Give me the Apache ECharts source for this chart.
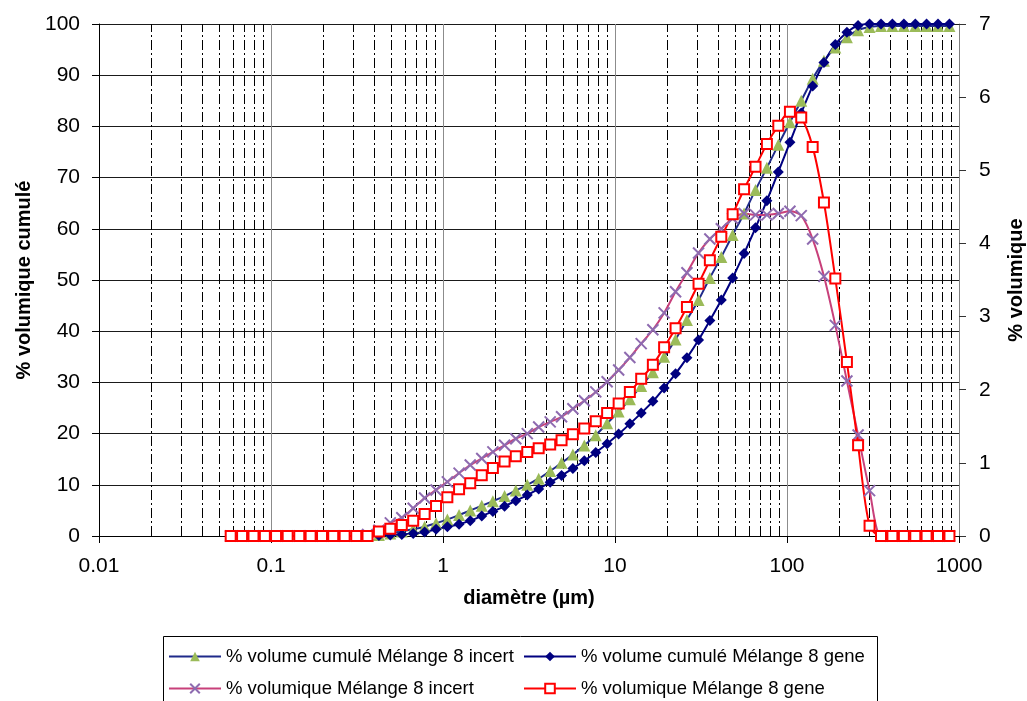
<!DOCTYPE html>
<html>
<head>
<meta charset="utf-8">
<script src="https://cdn.jsdelivr.net/npm/echarts@6/dist/echarts.min.js"></script>
<style>
  html, body { margin: 0; padding: 0; background: #fff; }
  #chart { width: 1027px; height: 701px; }
</style>
</head>
<body>
<div id="chart"></div>
<script>
// Particle size classes (µm), upper edge of each band
const diametres = [0.0583, 0.0679, 0.0791, 0.0921, 0.107, 0.125, 0.146, 0.170, 0.198, 0.230,
  0.268, 0.313, 0.364, 0.424, 0.494, 0.576, 0.671, 0.782, 0.911, 1.06,
  1.24, 1.44, 1.68, 1.95, 2.28, 2.65, 3.09, 3.60, 4.20, 4.89,
  5.69, 6.63, 7.73, 9.00, 10.5, 12.2, 14.2, 16.6, 19.3, 22.5,
  26.2, 30.6, 35.6, 41.5, 48.3, 56.3, 65.6, 76.4, 89.0, 104,
  121, 141, 164, 191, 223, 259, 302, 352, 410, 478,
  557, 648, 755, 880];

// % volume cumulé (left axis)
const cumulIncert = [0, 0, 0, 0, 0, 0, 0, 0, 0, 0,
  0, 0, 0, 0.2, 0.5, 0.9, 1.3, 1.8, 2.5, 3.2,
  4.1, 5.0, 5.9, 6.8, 7.8, 8.9, 10.0, 11.2, 12.7, 14.3,
  15.9, 17.7, 19.7, 22.0, 24.3, 26.7, 29.3, 32.0, 35.0, 38.4,
  42.2, 46.1, 50.4, 54.5, 58.8, 63.0, 67.6, 71.9, 76.4, 80.8,
  85.0, 89.3, 92.8, 95.4, 97.4, 98.8, 99.4, 99.6, 99.6, 99.6,
  99.6, 99.6, 99.6, 99.6];

const cumulGene = [0, 0, 0, 0, 0, 0, 0, 0, 0, 0,
  0, 0, 0, 0.1, 0.2, 0.3, 0.5, 0.8, 1.3, 1.8,
  2.3, 3.0, 3.9, 4.8, 5.8, 6.9, 8.0, 9.2, 10.5, 11.8,
  13.2, 14.7, 16.3, 18.0, 19.9, 21.9, 24.0, 26.3, 28.9, 31.7,
  34.8, 38.3, 42.1, 46.1, 50.4, 55.2, 60.2, 65.5, 71.1, 76.9,
  82.6, 87.9, 92.5, 96.0, 98.4, 99.7, 100, 100, 100, 100,
  100, 100, 100, 100];

// % volumique (right axis)
const volIncert = [0, 0, 0, 0, 0, 0, 0, 0, 0, 0,
  0, 0, 0.02, 0.08, 0.18, 0.25, 0.38, 0.52, 0.63, 0.74,
  0.86, 0.97, 1.06, 1.15, 1.24, 1.33, 1.40, 1.49, 1.56, 1.63,
  1.74, 1.85, 1.97, 2.11, 2.27, 2.44, 2.63, 2.82, 3.05, 3.34,
  3.60, 3.87, 4.06, 4.20, 4.34, 4.41, 4.39, 4.39, 4.41, 4.44,
  4.38, 4.06, 3.55, 2.88, 2.12, 1.38, 0.62, 0, 0, 0,
  0, 0, 0, 0];

const volGene = [0, 0, 0, 0, 0, 0, 0, 0, 0, 0,
  0, 0, 0, 0.06, 0.10, 0.15, 0.21, 0.30, 0.41, 0.53,
  0.64, 0.72, 0.83, 0.93, 1.02, 1.09, 1.15, 1.20, 1.25, 1.31,
  1.39, 1.47, 1.57, 1.68, 1.81, 1.97, 2.15, 2.34, 2.58, 2.84,
  3.13, 3.45, 3.77, 4.09, 4.40, 4.74, 5.05, 5.36, 5.61, 5.80,
  5.72, 5.32, 4.56, 3.52, 2.38, 1.24, 0.14, 0, 0, 0,
  0, 0, 0, 0];

const seriesNames = [
  '% volume cumulé Mélange 8 incert',
  '% volume cumulé Mélange 8 gene',
  '% volumique Mélange 8 incert',
  '% volumique Mélange 8 gene'
];

const FONT = '"Liberation Sans", Arial, sans-serif';

// Minor vertical grid at 2..9 of each decade
const minorGrid = [];
[0.01, 0.1, 1, 10, 100].forEach(function (d) {
  for (let m = 2; m <= 9; m++) minorGrid.push(+(m * d).toPrecision(3));
});

function pairs(ys) { return diametres.map(function (x, i) { return [x, ys[i]]; }); }

const crossPath = 'path://M0,0L10,10M10,0L0,10';

const chart = echarts.init(document.getElementById('chart'), null, { renderer: 'canvas' });

const legendCommon = {
  orient: 'horizontal',
  padding: 0,
  itemGap: 0,
  itemWidth: 52,
  itemHeight: 12,
  textStyle: { fontFamily: FONT, fontSize: 18.5, color: '#000' }
};

chart.setOption({
  animation: false,
  backgroundColor: '#fff',
  grid: { left: 99, right: 68, top: 24, bottom: 165, containLabel: false, outerBoundsMode: 'none' },
  xAxis: {
    type: 'log',
    logBase: 10,
    min: 0.01,
    max: 1000,
    name: 'diamètre (µm)',
    nameLocation: 'middle',
    nameGap: 52,
    nameTextStyle: { fontFamily: FONT, fontSize: 20, fontWeight: 'bold', color: '#000' },
    axisLine: { show: true, lineStyle: { color: '#000', width: 1 } },
    axisTick: { show: true, length: 7, lineStyle: { color: '#000' } },
    axisLabel: {
      fontFamily: FONT, fontSize: 21, color: '#000', margin: 20,
      formatter: function (v) { return String(+v.toPrecision(3)); }
    },
    splitLine: { show: true, lineStyle: { color: '#8c8c8c', width: 1 } },
    minorTick: { show: false },
    minorSplitLine: { show: false }
  },
  yAxis: [
    {
      type: 'value',
      min: 0, max: 100, interval: 10,
      position: 'left',
      name: '% volumique cumulé',
      nameLocation: 'middle',
      nameRotate: 90,
      nameGap: 64,
      nameTextStyle: { fontFamily: FONT, fontSize: 20, fontWeight: 'bold', color: '#000' },
      axisLine: { show: true, lineStyle: { color: '#000', width: 1 } },
      axisTick: { show: true, length: 7, lineStyle: { color: '#000' } },
      axisLabel: { fontFamily: FONT, fontSize: 21, color: '#000', margin: 19 },
      splitLine: { show: true, lineStyle: { color: '#1a1a1a', width: 1 } }
    },
    {
      type: 'value',
      min: 0, max: 7, interval: 1,
      position: 'right',
      name: '% volumique',
      nameLocation: 'middle',
      nameRotate: 90,
      nameGap: 47,
      nameTextStyle: { fontFamily: FONT, fontSize: 20, fontWeight: 'bold', color: '#000' },
      axisLine: { show: true, lineStyle: { color: '#808080', width: 1 } },
      axisTick: { show: true, length: 7, lineStyle: { color: '#333' } },
      axisLabel: { fontFamily: FONT, fontSize: 21, color: '#000', margin: 20 },
      splitLine: { show: false }
    }
  ],
  legend: [
    Object.assign({ data: [seriesNames[0]], left: 168, top: 647 }, legendCommon),
    Object.assign({ data: [seriesNames[1]], left: 523, top: 647 }, legendCommon),
    Object.assign({ data: [seriesNames[2]], left: 168, top: 679 }, legendCommon),
    Object.assign({ data: [seriesNames[3]], left: 523, top: 679 }, legendCommon)
  ],
  graphic: [{
    type: 'rect',
    shape: { x: 163.5, y: 636.5, width: 714, height: 80 },
    style: { fill: 'none', stroke: '#000', lineWidth: 1 },
    silent: true
  }],
  series: [
    {
      name: seriesNames[0],
      type: 'line',
      yAxisIndex: 0,
      data: pairs(cumulIncert),
      smooth: 0.3,
      symbol: 'triangle',
      symbolSize: 12,
      lineStyle: { color: '#1f2a8a', width: 2 },
      itemStyle: { color: '#9bbb59', borderWidth: 0 },
      markLine: {
        silent: true,
        z: 1,
        symbol: ['none', 'none'],
        label: { show: false },
        emphasis: { disabled: true },
        lineStyle: { color: '#000', width: 1, type: [10, 3, 2, 3] },
        data: minorGrid.map(function (v) { return { xAxis: v }; })
      }
    },
    {
      name: seriesNames[1],
      type: 'line',
      yAxisIndex: 0,
      data: pairs(cumulGene),
      smooth: 0.3,
      symbol: 'diamond',
      symbolSize: 11,
      lineStyle: { color: '#000080', width: 2 },
      itemStyle: { color: '#000080', borderWidth: 0 }
    },
    {
      name: seriesNames[2],
      type: 'line',
      yAxisIndex: 1,
      data: pairs(volIncert),
      smooth: 0.3,
      symbol: crossPath,
      symbolSize: 11,
      lineStyle: { color: '#c8407a', width: 2 },
      itemStyle: { color: 'none', borderColor: '#8e6bb0', borderWidth: 2 }
    },
    {
      name: seriesNames[3],
      type: 'line',
      yAxisIndex: 1,
      data: pairs(volGene),
      smooth: 0.3,
      symbol: 'rect',
      symbolSize: 10,
      lineStyle: { color: '#ff0000', width: 2 },
      itemStyle: { color: '#ffffff', borderColor: '#ff0000', borderWidth: 2 }
    }
  ]
});
</script>
</body>
</html>
